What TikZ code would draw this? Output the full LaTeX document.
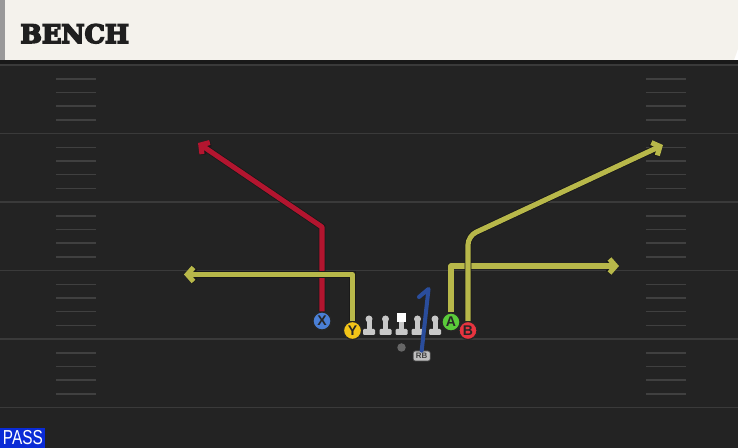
\documentclass[tikz,border=0pt]{standalone}
\usepackage{fontspec}
\usepackage{xcolor}
\usepackage{tikz}
\usetikzlibrary{arrows.meta,positioning}
\setsansfont{Liberation Sans}
\newfontfamily\titlefont[BoldFeatures={FakeBold=6}]{DejaVu Serif}
\newfontfamily\passfont[FakeStretch=0.76]{Liberation Sans}
\definecolor{fieldbg}{HTML}{232323}
\definecolor{linegray}{HTML}{3A3A3A}
\definecolor{hashgray}{HTML}{404040}
\definecolor{headercream}{HTML}{F4F2EC}
\definecolor{routered}{HTML}{B3152F}
\definecolor{routeyellow}{HTML}{B8B84A}
\definecolor{routeblue}{HTML}{2A4D9C}
\definecolor{xblue}{HTML}{4A7FD6}
\definecolor{yyellow}{HTML}{F2C418}
\definecolor{agreen}{HTML}{5ACB3A}
\definecolor{bred}{HTML}{E8343F}
\definecolor{olgray}{HTML}{C8C8C8}
\definecolor{passblue}{HTML}{0A2BD6}

\begin{document}
\begin{tikzpicture}[
    x=0.02cm, y=-0.02cm,
    yardline/.style={draw=linegray, line width=1.1pt},
    hash/.style={draw=hashgray, line width=0.9pt},
    player/.style={circle, draw=black!85, line width=0.7pt, minimum size=0.36cm, inner sep=0pt, font=\sffamily\bfseries\fontsize{8}{8}\selectfont, text=black!85},
    olhead/.style={circle, fill=olgray, minimum size=0.14cm, inner sep=0pt},
    center/.style={rectangle, fill=white, minimum size=0.18cm, inner sep=0pt},
    qb/.style={circle, fill=black!60, minimum size=0.17cm, inner sep=0pt},
    rbtag/.style={rectangle, rounded corners=1.2pt, fill=black!25, draw=black!70, line width=0.4pt, minimum width=0.34cm, minimum height=0.2cm, inner sep=0pt, font=\sffamily\bfseries\fontsize{4.5}{4.5}\selectfont, text=black!75},
    route/.style={line width=2.9pt, line join=round, -{Straight Barb[length=3.5pt, width=8pt]}, preaction={draw=black!90, line width=3.8pt, -{Straight Barb[length=3.5pt, width=8pt]}}},
    title/.style={font=\titlefont\bfseries\fontsize{14.5}{14.5}\selectfont, text=black!88, inner sep=0pt},
    passbox/.style={rectangle, fill=passblue, text=white, minimum width=0.9cm, minimum height=0.4cm, inner sep=0pt, font=\passfont\fontsize{11.5}{11.5}\selectfont}
]
\useasboundingbox (0,0) rectangle (738,448);

% Field
\fill[fieldbg] (0,60) rectangle (738,448);
\fill[black!90] (0,60) rectangle (738,64);
\foreach \yl in {65,133.5,202,270.5,339,407.5}
    \draw[yardline] (0,\yl) -- (738,\yl);
\foreach \yl in {65,133.5,202,270.5,339}{
    \foreach \o in {14,27.5,41,55}{
        \draw[hash] (56,\yl+\o) -- (96,\yl+\o);
        \draw[hash] (646,\yl+\o) -- (686,\yl+\o);
    }
}

% Header
\fill[black!40] (0,0) rectangle (5,60);
\fill[headercream] (5,0) -- (738,0) -- (738,49) -- (734,60) -- (5,60) -- cycle;
\node[title, anchor=base west] (title) at (20,43) {BENCH};

% Line
\foreach \lx/\ln in {369/lt,385.5/lg,417.5/rg,435/rt}{
    \fill[olgray] (\lx-2.5,321) rectangle (\lx+2.5,330);
    \fill[olgray, rounded corners=0.6pt] (\lx-6,329) rectangle (\lx+6,335);
    \node[olhead] (\ln) at (\lx,319) {};
}
\fill[olgray] (399,321) rectangle (404,330);
\fill[olgray, rounded corners=0.6pt] (395.5,329) rectangle (407.5,335);
\node[center] (c) at (401.5,317.5) {};

% Backs
\node[qb] (qb) at (401.5,347.5) {};
\node[rbtag] (rb) at (421.7,356) {RB};

% Receivers
\node[player, fill=xblue] (X) at (322,321) {X};
\node[player, fill=yyellow] (Y) at (352.5,330.5) {Y};
\node[player, fill=agreen] (A) at (451,322) {A};
\node[player, fill=bred] (B) at (468,330.5) {B};

% Route ends
\coordinate (xcut) at (322,227);
\coordinate (xend) at (198,143);
\coordinate (yend) at (184,274.5);
\coordinate (aend) at (619,266);
\coordinate (bcut) at (468,236);
\coordinate (bend) at (663,145);
\coordinate (rbtop) at (428.5,289);
\coordinate (rbflag) at (419,297);

% Routes
\draw[route, draw=routered] (X.north) -- (xcut) -- (xend);
\draw[route, draw=routeyellow] (Y.north) |- (yend);
\draw[route, draw=routeyellow] (A.north) |- (aend);
\draw[route, draw=routeyellow, rounded corners=5pt] (B.north) -- (bcut) -- (bend);
\draw[routeblue, line width=2.3pt, line cap=round, line join=round] (rb.north) -- (rbtop) -- (rbflag);

% Play type
\node[passbox, anchor=south west] (pass) at (0,448) {PASS};

\end{tikzpicture}
\end{document}
